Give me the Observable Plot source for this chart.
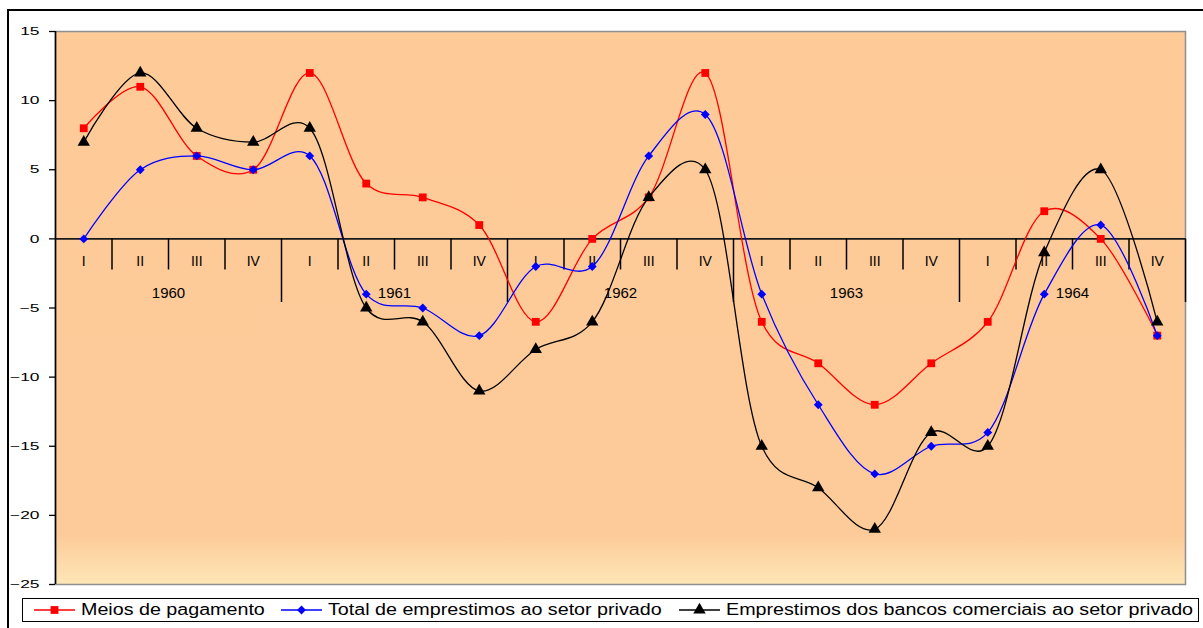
<!DOCTYPE html>
<html>
<head>
<meta charset="utf-8">
<script src="https://cdn.jsdelivr.net/npm/d3@7"></script>
<script src="https://cdn.jsdelivr.net/npm/@observablehq/plot@0.6"></script>
<style>
  html, body { margin: 0; padding: 0; background: #fff; overflow: hidden; }
  #page { position: relative; width: 1203px; height: 628px; font-family: Arial, "Liberation Sans", sans-serif; }
  #outline { position: absolute; left: 7px; top: 9px; width: 1300px; height: 700px;
             border-top: 2px solid #000; border-left: 2px solid #000; }
  #chart { position: absolute; left: 0; top: 0; }
  #legend { position: absolute; left: 22px; top: 598px; width: 1175px; height: 22px;
            border: 1.5px solid #000; background: #fff; }
  .item { position: absolute; top: 0; height: 22px; }
  .item svg { position: absolute; left: 0; top: 0; }
  .item .label { position: absolute; top: 1px; font-size: 16px; line-height: 20px; white-space: nowrap;
                 color: #000; transform: scaleX(1.23); transform-origin: left center; }
</style>
</head>
<body>
<div id="page">
  <div id="outline"></div>
  <div id="chart"></div>
  <div id="legend"></div>
</div>
<script>
// Quarterly growth rates, 1960–1964
const quarters = ["I", "II", "III", "IV"];
const years = [1960, 1961, 1962, 1963, 1964];
const yTicks = [-25, -20, -15, -10, -5, 0, 5, 10, 15];

const meiosDePagamento  = [8, 11, 6, 5, 12, 4, 3, 1, -6, 0, 3, 12, -6, -9, -12, -9, -6, 2, 0, -7];
const totalEmprestimos  = [0, 5, 6, 5, 6, -4, -5, -7, -2, -2, 6, 9, -4, -12, -17, -15, -14, -4, 1, -7];
const emprestimosBancos = [7, 12, 8, 7, 8, -5, -6, -11, -8, -6, 3, 5, -15, -18, -21, -14, -15, -1, 5, -6];

const seriesNames = [
  "Meios de pagamento",
  "Total de emprestimos ao setor privado",
  "Emprestimos dos bancos comerciais ao setor privado"
];

// one row per quarter, indexed along the time axis
const periods = years.flatMap((year, yi) =>
  quarters.map((quarter, qi) => ({ year, quarter, i: yi * 4 + qi })));

const series = [
  { name: seriesNames[0], values: meiosDePagamento,  color: "#FF0000", symbol: "square",   r: 4.4 },
  { name: seriesNames[1], values: totalEmprestimos,  color: "#0000FF", symbol: "diamond2", r: 4.0 },
  { name: seriesNames[2], values: emprestimosBancos, color: "#000000", symbol: "triangle", r: 4.6 }
];

const QUARTER_TICK_END = -2.25;  // depth of quarter separators below the zero line (y units)
const YEAR_TICK_END = -4.6;      // depth of year separators

// smoothed connecting lines, slightly less taut than a centripetal spline
const smooth = d3.curveCatmullRom.alpha(0.2);

const seriesMarks = series.flatMap(s => [
  Plot.line(periods, { x: "i", y: p => s.values[p.i], curve: smooth, stroke: s.color, strokeWidth: 1.3 }),
  Plot.dot(periods, { x: "i", y: p => s.values[p.i], symbol: s.symbol, r: s.r, fill: s.color, stroke: "none" })
]);

const svg = Plot.plot({
  width: 1203,
  height: 600,
  marginLeft: 55,
  marginRight: 18,
  marginTop: 31,
  marginBottom: 16,
  style: { fontFamily: "Arial, 'Liberation Sans', sans-serif", background: "transparent", color: "#000" },
  x: { domain: [-0.5, quarters.length * years.length - 0.5], axis: null },
  y: { domain: [-25, 15] },
  marks: [
    Plot.frame({ fill: "url(#plotBg)", stroke: "#8f8f8f", strokeWidth: 1.5 }),
    Plot.ruleY([0], { stroke: "#1a1a1a", strokeWidth: 1.6 }),
    Plot.ruleX(periods.filter(p => p.quarter !== "IV"),
      { x: p => p.i + 0.5, y1: 0, y2: QUARTER_TICK_END, stroke: "#000", strokeWidth: 1.5 }),
    Plot.ruleX(years,
      { x: (d, k) => k * 4 + 3.5, y1: 0, y2: YEAR_TICK_END, stroke: "#000", strokeWidth: 1.5 }),
    Plot.text(periods, { x: "i", y: 0, dy: 23, text: "quarter", fontSize: 14, fill: "#000", ariaLabel: "quarter label" }),
    Plot.text(years, { x: (d, k) => k * 4 + 1.5, y: 0, dy: 54, text: d => String(d), fontSize: 15, fill: "#000", ariaLabel: "year label" }),
    Plot.axisY({ ticks: yTicks, tickSize: 6, tickPadding: 10, fontSize: 11.6, label: null, strokeWidth: 1.3 }),
    Plot.ruleX([-0.5], { y1: -25, y2: 15, stroke: "#000", strokeWidth: 1.6 }),
    ...seriesMarks
  ]
});

// vertical fill of the plotting area, lightening towards the bottom
const defs = d3.select(svg).insert("defs", ":first-child");
const grad = defs.append("linearGradient").attr("id", "plotBg")
  .attr("x1", 0).attr("y1", 0).attr("x2", 0).attr("y2", 1);
grad.append("stop").attr("offset", "0%").attr("stop-color", "#FDCA98");
grad.append("stop").attr("offset", "91%").attr("stop-color", "#FDCB99");
grad.append("stop").attr("offset", "100%").attr("stop-color", "#FDE6B6");

// widen glyphs horizontally around their anchor
function stretch(selector, sx) {
  svg.querySelectorAll(selector).forEach(t => {
    let tr = t.getAttribute("transform");
    if (!tr) {
      const x = +t.getAttribute("x") || 0, y = +t.getAttribute("y") || 0;
      t.removeAttribute("x"); t.removeAttribute("y");
      tr = `translate(${x},${y})`;
    }
    t.setAttribute("transform", `${tr} scale(${sx},1)`);
  });
}
stretch('g[aria-label="y-axis tick label"] text', 1.5);
stretch('g[aria-label="quarter label"] text', 1.05);
stretch('g[aria-label="year label"] text', 1.2);

document.getElementById("chart").appendChild(svg);

// legend row
const legendOffsets = [11, 258, 656];
const legend = d3.select("#legend");
series.forEach((s, k) => {
  const item = legend.append("div").attr("class", "item").style("left", legendOffsets[k] + "px");
  const sw = item.append("svg").attr("width", 42).attr("height", 22);
  sw.append("line").attr("x1", 0).attr("x2", 41).attr("y1", 11).attr("y2", 11)
    .attr("stroke", s.color).attr("stroke-width", 1.3);
  const sym = { square: d3.symbolSquare, diamond2: d3.symbolDiamond2, triangle: d3.symbolTriangle }[s.symbol];
  sw.append("path").attr("transform", "translate(20.5,11)")
    .attr("d", d3.symbol(sym, Math.PI * s.r * s.r)()).attr("fill", s.color);
  item.append("span").attr("class", "label").style("left", "47px").text(s.name);
});
</script>
</body>
</html>
